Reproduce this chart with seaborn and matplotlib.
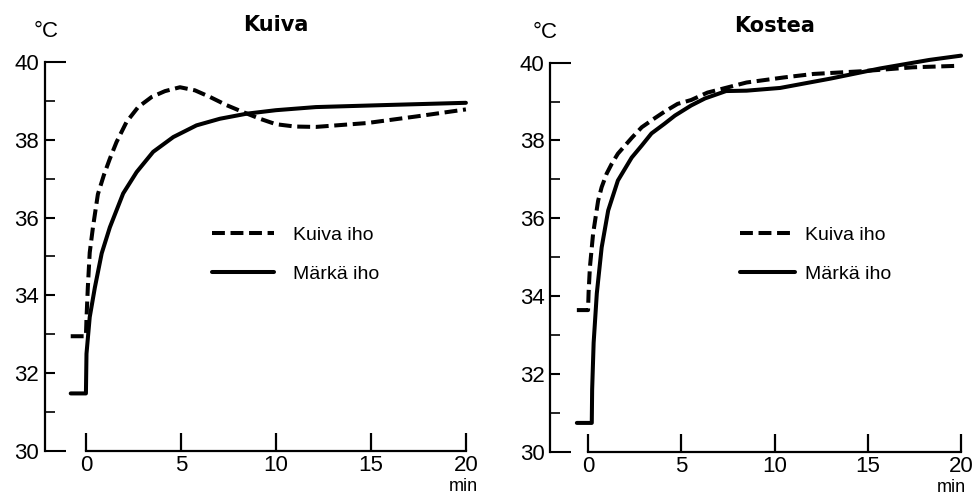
import pandas as pd
import seaborn as sns
import matplotlib.pyplot as plt

# --- Kuiva (dry air) ---
kuiva_t_dry = [-0.8, 0.0, 0.03, 0.1, 0.2, 0.37, 0.63, 0.95, 1.25, 1.61, 2.14, 2.75, 3.46, 4.16, 4.95, 5.74, 6.53, 7.4, 8.28, 9.16, 10.0, 11.0, 12.1, 14.8, 17.4, 20.0]
kuiva_y_dry = [32.95, 32.95, 33.4, 34.2, 35.1, 35.75, 36.6, 37.1, 37.5, 37.94, 38.46, 38.84, 39.1, 39.25, 39.35, 39.27, 39.1, 38.89, 38.71, 38.54, 38.4, 38.34, 38.33, 38.43, 38.6, 38.78]
kuiva_t_wet = [-0.8, 0.0, 0.03, 0.2, 0.47, 0.83, 1.26, 1.96, 2.67, 3.54, 4.6, 5.82, 7.05, 8.46, 10.0, 12.1, 15.6, 20.0]
kuiva_y_wet = [31.48, 31.48, 32.5, 33.44, 34.2, 35.08, 35.75, 36.62, 37.17, 37.69, 38.07, 38.37, 38.54, 38.67, 38.76, 38.84, 38.89, 38.95]

# --- Kostea (humid air) ---
kostea_t_dry = [-0.6, 0.0, 0.03, 0.1, 0.27, 0.54, 0.73, 1.0, 1.27, 1.6, 2.35, 2.88, 3.6, 4.1, 4.8, 5.53, 6.4, 8.5, 10.5, 12.1, 14.7, 17.4, 19.9]
kostea_y_dry = [33.64, 33.64, 34.1, 34.74, 35.6, 36.45, 36.8, 37.15, 37.4, 37.66, 38.07, 38.34, 38.58, 38.74, 38.94, 39.04, 39.23, 39.49, 39.62, 39.71, 39.78, 39.88, 39.92]
kostea_t_wet = [-0.6, 0.2, 0.22, 0.3, 0.47, 0.73, 1.08, 1.6, 2.34, 2.88, 3.4, 4.1, 4.66, 5.53, 6.27, 7.4, 8.5, 10.3, 13.0, 15.65, 18.3, 20.0]
kostea_y_wet = [30.74, 30.74, 31.6, 32.8, 34.07, 35.25, 36.2, 36.97, 37.56, 37.87, 38.18, 38.43, 38.64, 38.9, 39.08, 39.27, 39.28, 39.35, 39.59, 39.85, 40.07, 40.18]

labels = ['Kuiva iho', 'Märkä iho']
titles = ['Kuiva', 'Kostea']
xticks = [0, 5, 10, 15, 20]
yticks = [30, 32, 34, 36, 38, 40]
yticks_minor = [31, 33, 35, 37, 39]


def draw_panel(ax, t_dry, y_dry, t_wet, y_wet, title, x_left, leg_x, handlelen, textpad, degc_x, min_x):
    df = pd.concat([
        pd.DataFrame({'t': t_dry, 'temp': y_dry, 'iho': labels[0]}),
        pd.DataFrame({'t': t_wet, 'temp': y_wet, 'iho': labels[1]}),
    ], ignore_index=True)

    sns.lineplot(data=df, x='t', y='temp', style='iho',
                 dashes={labels[0]: (3.2, 1.4), labels[1]: ''},
                 color='black', linewidth=2.9, estimator=None, sort=False, ax=ax)

    ax.set_xlim(x_left, 20.4)
    ax.set_ylim(30, 40.5)
    sns.despine(ax=ax)
    ax.spines['left'].set_bounds(30, 40)
    ax.spines['bottom'].set_bounds(0, 20)
    for s in ['left', 'bottom']:
        ax.spines[s].set_linewidth(1.6)
        ax.spines[s].set_color('black')

    ax.set_xticks(xticks)
    ax.set_yticks(yticks)
    ax.set_yticks(yticks_minor, minor=True)
    ax.tick_params(axis='y', which='major', direction='in', length=7.5, width=1.5,
                   pad=4, labelsize=16, color='black', labelcolor='black')
    ax.tick_params(axis='y', which='minor', direction='in', length=7.5, width=1.2, color='black')
    ax.tick_params(axis='x', which='major', direction='in', length=13, width=1.6,
                   pad=3, labelsize=16, color='black', labelcolor='black')
    # longer ticks at the ends of the temperature axis
    yt = ax.yaxis.get_major_ticks()
    yt[0].tick1line.set_markersize(15)
    yt[-1].tick1line.set_markersize(15)

    ax.set_xlabel('')
    ax.set_ylabel('')
    ax.grid(False)

    ax.text(10, 40.95, title, ha='center', va='center', fontsize=15,
            fontweight='bold', family='DejaVu Sans', color='black')
    ax.text(degc_x, 40.78, '°C', ha='center', va='center', fontsize=16, color='black')
    ax.text(min_x, 28.86, 'min', ha='center', va='bottom', fontsize=13, color='black',
            clip_on=False)

    sns.move_legend(ax, 'upper left', bbox_to_anchor=(leg_x, 0.551), frameon=False,
                    title=None, fontsize=14, handlelength=handlelen, handletextpad=textpad,
                    labelspacing=1.1, borderpad=0, borderaxespad=0, labelcolor='black')
    for h in ax.get_legend().legend_handles:
        h.set_linewidth(2.9)


sns.set_theme(style='ticks')
plt.rcParams['font.family'] = ['Liberation Sans', 'DejaVu Sans']
plt.rcParams['text.color'] = 'black'

fig = plt.figure(figsize=(9.76, 4.97), dpi=100)
ax1 = fig.add_axes([44.5 / 976, 46 / 497, 429 / 976, 408.5 / 497])
ax2 = fig.add_axes([550 / 976, 45.3 / 497, 418.5 / 976, 408.5 / 497])

draw_panel(ax1, kuiva_t_dry, kuiva_y_dry, kuiva_t_wet, kuiva_y_wet, titles[0],
           -2.18, 0.39, 3.2, 0.98, -2.1, 19.85)
draw_panel(ax2, kostea_t_dry, kostea_y_dry, kostea_t_wet, kostea_y_wet, titles[1],
           -2.04, 0.454, 2.84, 0.5, -2.3, 19.5)

fig.savefig('out.png', dpi=100)
